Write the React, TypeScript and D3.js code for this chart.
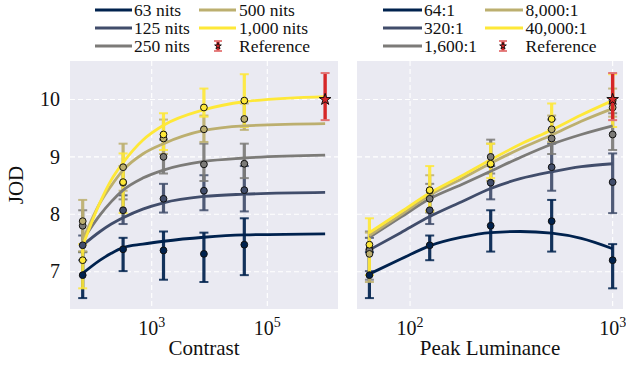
import React, { useEffect, useRef } from 'react';
import * as d3 from 'd3';

// conditions
const luminances = [63, 125, 250, 500, 1000];
const contrasts = [64, 320, 1600, 8000, 40000];
const lumLabels = ['63 nits', '125 nits', '250 nits', '500 nits', '1,000 nits'];
const conLabels = ['64:1', '320:1', '1,600:1', '8,000:1', '40,000:1'];
const colors = ['#00224e', '#414d6b', '#7c7b78', '#bcaf6f', '#fee838'];

// JOD per condition: rows = luminance, columns = contrast
const jod = [
  [6.94, 7.39, 7.37, 7.31, 7.47],
  [7.46, 8.07, 8.27, 8.41, 8.42],
  [7.80, 8.55, 9.00, 8.87, 8.88],
  [7.88, 8.82, 9.32, 9.48, 9.66],
  [7.20, 8.56, 9.39, 9.86, 9.98],
];
const ciLow = [
  [6.54, 7.01, 6.86, 6.82, 6.94],
  [7.20, 7.83, 8.03, 8.07, 8.05],
  [7.35, 8.26, 8.71, 8.58, 8.63],
  [7.35, 8.41, 9.05, 9.26, 9.47],
  [6.71, 8.02, 9.12, 9.70, 9.52],
];
const ciHigh = [
  [7.34, 7.59, 7.70, 7.68, 7.93],
  [7.63, 8.33, 8.53, 8.68, 8.84],
  [8.07, 8.84, 9.30, 9.23, 9.23],
  [8.25, 9.23, 9.65, 9.72, 9.93],
  [7.48, 9.06, 9.76, 10.19, 10.44],
];

// reference display
const refContrast = 1000000;
const refLuminance = 1000;
const refJod = 10.0;
const refLow = 9.64;
const refHigh = 10.46;

// fitted curves, left panel (one per luminance, over contrast)
const fitContrast = [64, 128, 200, 320, 700, 1600, 8000, 40000, 1000000];
const fitByLum = [
  [6.97, 7.20, 7.32, 7.42, 7.48, 7.53, 7.60, 7.64, 7.66],
  [7.46, 7.70, 7.83, 7.94, 8.09, 8.20, 8.31, 8.35, 8.38],
  [7.55, 7.99, 8.22, 8.42, 8.63, 8.77, 8.92, 8.98, 9.03],
  [7.55, 8.20, 8.50, 8.77, 9.05, 9.23, 9.46, 9.54, 9.58],
  [7.45, 8.21, 8.60, 8.90, 9.29, 9.55, 9.82, 9.96, 10.05],
];

// fitted curves, right panel (one per contrast, over luminance)
const fitLum = [63, 90, 125, 180, 250, 350, 500, 700, 1000];
const fitByCon = [
  [6.96, 7.22, 7.45, 7.60, 7.68, 7.70, 7.67, 7.58, 7.40],
  [7.38, 7.68, 7.96, 8.22, 8.45, 8.62, 8.74, 8.83, 8.88],
  [7.60, 7.95, 8.27, 8.52, 8.75, 8.99, 9.22, 9.39, 9.54],
  [7.63, 7.99, 8.33, 8.62, 8.89, 9.14, 9.38, 9.62, 9.84],
  [7.68, 8.04, 8.37, 8.67, 8.95, 9.22, 9.47, 9.73, 9.98],
];

const yTicks = [7, 8, 9, 10];
const leftTicks = [1000, 100000];
const rightTicks = [100, 1000];

const FONT = "'Liberation Serif'";

const App = () => {
  const ref = useRef(null);

  useEffect(() => {
    d3.select(ref.current).selectAll('*').remove();

    const width = 626;
    const height = 366;
    const top = 61;
    const bottom = 309;

    const svg = d3.select(ref.current)
      .append('svg')
      .attr('width', width)
      .attr('height', height)
      .style('position', 'absolute')
      .style('left', 0)
      .style('top', 0);

    svg.append('rect').attr('width', width).attr('height', height).attr('fill', '#fff');

    const y = d3.scaleLinear().domain([6.35, 10.67]).range([bottom, top]);

    const xLeft = d3.scaleLog().domain([38.6, 1670000]).range([70, 338]);
    const xRight = d3.scaleLog().domain([54.7, 1125]).range([357, 623]);

    const addText = (sel) => sel.append('text').style('font-family', FONT).attr('fill', '#111');

    const drawPanel = (x, ticks, xs, value, low, high, fitX, fits, refX, label, id) => {
      const [x0, x1] = x.range();
      const g = svg.append('g');
      g.append('rect')
        .attr('x', x0).attr('y', top)
        .attr('width', x1 - x0).attr('height', bottom - top)
        .attr('fill', '#eaeaf2');

      g.append('clipPath').attr('id', id)
        .append('rect')
        .attr('x', x0).attr('y', top)
        .attr('width', x1 - x0).attr('height', bottom - top);

      // grid
      ticks.forEach(t => {
        g.append('line')
          .attr('x1', x(t)).attr('x2', x(t))
          .attr('y1', top).attr('y2', bottom)
          .attr('stroke', '#fff').attr('stroke-width', 1.1)
          .attr('stroke-dasharray', '5,3');
      });
      yTicks.forEach(t => {
        g.append('line')
          .attr('x1', x0).attr('x2', x1)
          .attr('y1', y(t)).attr('y2', y(t))
          .attr('stroke', '#fff').attr('stroke-width', 1.1)
          .attr('stroke-dasharray', '5,3');
      });

      const plot = g.append('g').attr('clip-path', `url(#${id})`);

      // error bars
      colors.forEach((c, k) => {
        xs.forEach((xv, j) => {
          const cx = x(xv);
          plot.append('line')
            .attr('x1', cx).attr('x2', cx)
            .attr('y1', y(low(k, j))).attr('y2', y(high(k, j)))
            .attr('stroke', c).attr('stroke-opacity', 0.92).attr('stroke-width', 3.2);
          [low(k, j), high(k, j)].forEach(v => {
            plot.append('line')
              .attr('x1', cx - 4.5).attr('x2', cx + 4.5)
              .attr('y1', y(v)).attr('y2', y(v))
              .attr('stroke', c).attr('stroke-opacity', 0.85).attr('stroke-width', 2);
          });
        });
      });

      // fitted curves
      const line = d3.line()
        .x((d, i) => x(fitX[i]))
        .y(d => y(d))
        .curve(d3.curveMonotoneX);
      fits.forEach((f, k) => {
        plot.append('path')
          .attr('d', line(f))
          .attr('fill', 'none')
          .attr('stroke', colors[k])
          .attr('stroke-width', 2.8);
      });

      // markers
      colors.forEach((c, k) => {
        xs.forEach((xv, j) => {
          plot.append('circle')
            .attr('cx', x(xv)).attr('cy', y(value(k, j)))
            .attr('r', 3.4)
            .attr('fill', c)
            .attr('stroke', '#111').attr('stroke-width', 1);
        });
      });

      // reference
      const rx = x(refX);
      plot.append('line')
        .attr('x1', rx).attr('x2', rx)
        .attr('y1', y(refLow)).attr('y2', y(refHigh))
        .attr('stroke', '#d62728').attr('stroke-width', 3.4);
      [refLow, refHigh].forEach(v => {
        plot.append('line')
          .attr('x1', rx - 4.5).attr('x2', rx + 4.5)
          .attr('y1', y(v)).attr('y2', y(v))
          .attr('stroke', '#e27474').attr('stroke-width', 2);
      });
      plot.append('path')
        .attr('d', d3.symbol(d3.symbolStar, 42)())
        .attr('transform', `translate(${rx},${y(refJod)})`)
        .attr('fill', '#d62728')
        .attr('stroke', '#111').attr('stroke-width', 1);

      // x tick labels
      ticks.forEach(t => {
        const txt = addText(g)
          .attr('x', x(t)).attr('y', 335)
          .attr('text-anchor', 'middle')
          .attr('font-size', 20);
        txt.append('tspan').text('10');
        txt.append('tspan')
          .attr('dy', -8)
          .attr('font-size', 14)
          .text(String(Math.round(Math.log10(t))));
      });

      addText(g)
        .attr('x', (x0 + x1) / 2).attr('y', 355)
        .attr('text-anchor', 'middle')
        .attr('font-size', 21)
        .text(label);
    };

    drawPanel(
      xLeft, leftTicks, contrasts,
      (k, j) => jod[k][j], (k, j) => ciLow[k][j], (k, j) => ciHigh[k][j],
      fitContrast, fitByLum, refContrast, 'Contrast', 'clipL'
    );
    drawPanel(
      xRight, rightTicks, luminances,
      (k, j) => jod[j][k], (k, j) => ciLow[j][k], (k, j) => ciHigh[j][k],
      fitLum, fitByCon, refLuminance, 'Peak Luminance', 'clipR'
    );

    // y axis
    yTicks.forEach(t => {
      addText(svg)
        .attr('x', 60).attr('y', y(t))
        .attr('dy', '0.34em')
        .attr('text-anchor', 'end')
        .attr('font-size', 20)
        .text(t);
    });
    addText(svg)
      .attr('transform', `translate(23,${(top + bottom) / 2}) rotate(-90)`)
      .attr('text-anchor', 'middle')
      .attr('font-size', 21)
      .text('JOD');

    // legends
    const legend = (labels, cols) => {
      const rows = [10, 28, 46];
      const items = labels.map((l, i) => ({ label: l, color: colors[i] }));
      items.push({ label: 'Reference', color: null });
      items.forEach((d, i) => {
        const col = cols[Math.floor(i / 3)];
        const ly = rows[i % 3];
        if (d.color) {
          svg.append('line')
            .attr('x1', col.l0).attr('x2', col.l1)
            .attr('y1', ly).attr('y2', ly)
            .attr('stroke', d.color).attr('stroke-width', 3);
        } else {
          const cx = col.ref;
          svg.append('line')
            .attr('x1', cx).attr('x2', cx)
            .attr('y1', ly - 5).attr('y2', ly + 5)
            .attr('stroke', '#d62728').attr('stroke-width', 3.2);
          [ly - 5, ly + 5].forEach(v => {
            svg.append('line')
              .attr('x1', cx - 4).attr('x2', cx + 4)
              .attr('y1', v).attr('y2', v)
              .attr('stroke', '#e27474').attr('stroke-width', 1.8);
          });
          svg.append('path')
            .attr('d', d3.symbol(d3.symbolStar, 14)())
            .attr('transform', `translate(${cx},${ly})`)
            .attr('fill', '#d62728')
            .attr('stroke', '#111').attr('stroke-width', 0.9);
        }
        addText(svg)
          .attr('x', col.t).attr('y', ly + 5.7)
          .attr('font-size', 17.5)
          .text(d.label);
      });
    };

    legend(lumLabels, [
      { l0: 95, l1: 132, t: 134, ref: 218 },
      { l0: 199, l1: 236, t: 239, ref: 218 },
    ]);
    legend(conLabels, [
      { l0: 383, l1: 422, t: 424, ref: 503 },
      { l0: 485, l1: 523, t: 525.5, ref: 503 },
    ]);
  }, []);

  return <div ref={ref}></div>;
};

export default App;
